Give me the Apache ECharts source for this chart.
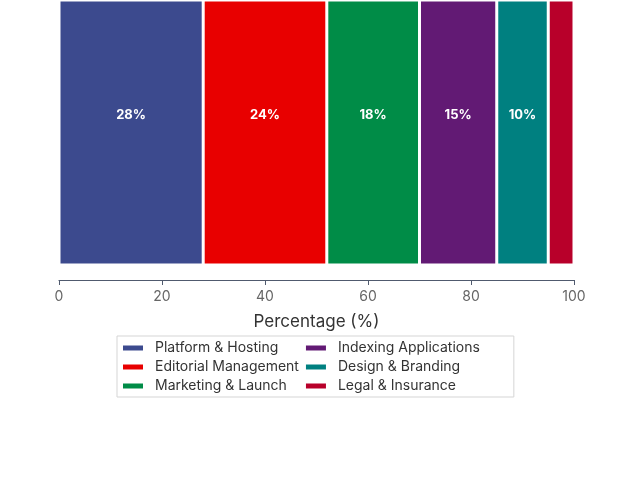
<!DOCTYPE html>
<html lang="en">
<head>
  <meta charset="UTF-8">
  <title>budget split</title>
  <style>
    html, body { margin: 0; padding: 0; background: #fff; }
    #chart { width: 640px; height: 480px; }
  </style>
</head>
<body>
<div id="chart"></div>
<script src="https://cdn.jsdelivr.net/npm/echarts@6/dist/echarts.min.js"></script>
<script>
  // data
  const categories = ['Budget'];
  const names = ['Platform & Hosting', 'Editorial Management', 'Marketing & Launch',
    'Indexing Applications', 'Design & Branding', 'Legal & Insurance'];
  const values = [28, 24, 18, 15, 10, 5];
  const colors = ['#3c4a8e', '#e80000', '#008c47', '#621a74', '#008080', '#b8002a'];
  const xTicks = [0, 20, 40, 60, 80, 100];

  const font = 'Inter, "Noto Sans", sans-serif';
  const chart = echarts.init(document.getElementById('chart'));

  const series = names.map((n, i) => ({
    name: n,
    type: 'bar',
    stack: 'all',
    barWidth: '100%',
    data: [values[i]],
    itemStyle: { color: colors[i], borderColor: '#fff', borderWidth: 1.5 },
    label: {
      show: values[i] >= 10,
      position: 'inside',
      offset: [0, -17],
      formatter: '{c}%',
      color: '#fff',
      fontWeight: 'bold',
      fontSize: 13,
      fontFamily: font
    }
  }));

  chart.setOption({
    animation: false,
    color: colors,
    grid: { left: 59, right: 66, top: 0, bottom: 215, containLabel: false },
    xAxis: {
      type: 'value',
      min: xTicks[0],
      max: xTicks[xTicks.length - 1],
      interval: 20,
      offset: 15,
      name: 'Percentage (%)',
      nameLocation: 'middle',
      nameGap: 33,
      nameTextStyle: { color: '#333', fontSize: 17, fontFamily: font },
      axisLine: { show: true, lineStyle: { color: '#505a6e', width: 1.2 } },
      axisTick: { show: true, length: 5, lineStyle: { color: '#505a6e' } },
      axisLabel: { color: '#666', fontSize: 14, margin: 10, fontFamily: font },
      splitLine: { show: false }
    },
    yAxis: {
      type: 'category',
      data: categories,
      show: false
    },
    legend: {
      orient: 'vertical',
      left: 117,
      top: 336,
      height: 60,
      itemWidth: 22,
      itemHeight: 7,
      itemGap: 5,
      padding: [5, 34, 4, 4],
      borderColor: '#d5d5d5',
      borderWidth: 1,
      icon: 'rect',
      textStyle: { color: '#333', fontSize: 14, fontFamily: font, padding: [0, 7, 0, 6] },
      data: names
    },
    series: series
  });
</script>
</body>
</html>
